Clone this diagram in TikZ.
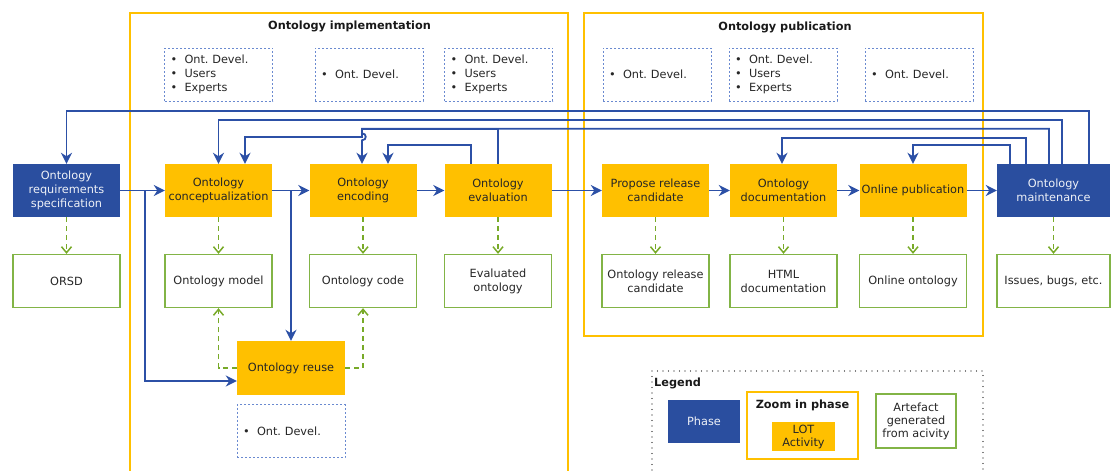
\documentclass[tikz,border=0pt]{standalone}
\usepackage{fontspec}
\setmainfont{DejaVu Sans}
\usetikzlibrary{arrows.meta,calc}
\definecolor{phaseblue}{HTML}{2A4E9F}
\definecolor{lineblue}{HTML}{2C50A6}
\definecolor{lotyellow}{HTML}{FFC000}
\definecolor{artgreen}{HTML}{82B446}
\definecolor{gendash}{HTML}{78AA28}
\definecolor{actorblue}{HTML}{6A8AD0}
\newcommand{\personitem}[1]{\makebox[14pt][l]{\textbullet}#1}
\frenchspacing
\begin{document}
\begin{tikzpicture}[line join=miter,x=1pt,y=-1pt,
	box/.style={minimum width=107pt,minimum height=53pt,inner sep=2pt,align=center,font=\fontsize{11.3}{14}\selectfont},
	phase/.style={box,fill=phaseblue,text=white!92!phaseblue},
	activity/.style={box,fill=lotyellow,text=black!85},
	artefact/.style={box,draw=artgreen,line width=1.3pt,fill=white,text=black!85},
	actors/.style={box,minimum width=108pt,draw=actorblue,dash pattern=on 2pt off 2pt,line width=0.9pt,align=left,text width=96pt,text=black!85},
	flow/.style={draw=lineblue,line width=1.8pt,-{Stealth[length=11pt,width=11pt,inset=3.5pt]}},
	gen/.style={draw=gendash,line width=1.5pt,dash pattern=on 5pt off 4pt,-{Straight Barb[length=6pt,width=10pt]}},
	frame/.style={draw=lotyellow,line width=1.5pt},
	title/.style={font=\bfseries\fontsize{11.3}{14}\selectfont,text=black!90}]
	\useasboundingbox (0,0) rectangle (1112,471);
	\clip (0,0) rectangle (1112,471);
	% phase frames
	\draw[frame] (130,480) |- (568,13) -- (568,480);
	\draw[frame] (584,13) rectangle (983,336);
	\node[title] (impltitle) at (349.5,26) {Ontology implementation};
	\node[title] (pubtitle) at (785,27) {Ontology publication};
	% actors
	\node[actors] (act1) at (218.5,74.5) {\personitem{Ont. Devel.}\\\personitem{Users}\\\personitem{Experts}};
	\node[actors] (act2) at (369,74.5) {\personitem{Ont. Devel.}};
	\node[actors] (act3) at (498.5,74.5) {\personitem{Ont. Devel.}\\\personitem{Users}\\\personitem{Experts}};
	\node[actors] (act4) at (657,74.5) {\personitem{Ont. Devel.}};
	\node[actors] (act5) at (783,74.5) {\personitem{Ont. Devel.}\\\personitem{Users}\\\personitem{Experts}};
	\node[actors] (act6) at (919,74.5) {\personitem{Ont. Devel.}};
	% phases and activities
	\node[phase] (ors) at (66.5,190.5) {Ontology\\requirements\\specification};
	\node[activity] (concept) at (218.5,190.5) {Ontology\\conceptualization};
	\node[activity] (enc) at (363,190.5) {Ontology\\encoding};
	\node[activity] (eval) at (498,190.5) {Ontology\\evaluation};
	\node[activity] (propose) at (655.5,190.5) {Propose release\\candidate};
	\node[activity] (doc) at (783.5,190.5) {Ontology\\documentation};
	\node[activity] (pub) at (913,190.5) {Online publication};
	\node[phase,minimum width=113pt] (maint) at (1053.5,190.5) {Ontology\\maintenance};
	\node[activity,minimum width=108pt,minimum height=54pt] (reuse) at (291,368) {Ontology reuse};
	\node[actors] (act7) at (291,431) {\personitem{Ont. Devel.}};
	% artefacts
	\node[artefact] (orsd) at (66.5,281) {ORSD};
	\node[artefact] (model) at (218.5,281) {Ontology model};
	\node[artefact] (code) at (363,281) {Ontology code};
	\node[artefact] (evald) at (498,281) {Evaluated\\ontology};
	\node[artefact] (release) at (655.5,281) {Ontology release\\candidate};
	\node[artefact] (html) at (783.5,281) {HTML\\documentation};
	\node[artefact] (online) at (913,281) {Online ontology};
	\node[artefact,minimum width=113pt] (issues) at (1053.5,281) {Issues, bugs, etc.};
	% main flow
	\foreach \a/\b in {ors/concept,concept/enc,enc/eval,eval/propose,propose/doc,doc/pub,pub/maint}
		\draw[flow] (\a) -- (\b);
	\coordinate (split1) at (145,190.5);
	\draw[flow] (split1) |- ($(reuse.west)+(0,13)$);
	\draw[flow] (reuse.north |- concept.east) -- (reuse.north);
	% feedback
	\draw[flow] ([xshift=35.5]maint.north) -- ++(0,-53) -| (ors.north);
	\draw[flow] ([xshift=8.5]maint.north) -- ++(0,-44) -| (concept.north);
	\draw[flow] (eval.north) -- ++(0,-35) -- ($(enc.north)+(-1,-35)$) -- ++(0,8) -| ([xshift=26.5]concept.north);
	\draw[flow] ([xshift=-4.5]maint.north) -- ++(0,-35) -- ($(enc.north)+(-1,-35)$) -- ++(0,4.5)
		.. controls +(5,0) and +(5,0) .. ++(0,7) -- ([xshift=-1]enc.north);
	\draw[flow] ([xshift=-27]eval.north) -- ++(0,-19) -| ([xshift=25]enc.north);
	\draw[flow] ([xshift=-27.5]maint.north) -- ++(0,-26) -| ([xshift=-1.5]doc.north);
	\draw[flow] ([xshift=-43.5]maint.north) -- ++(0,-19) -| (pub.north);
	% generated artefacts
	\foreach \a/\b in {ors/orsd,concept/model,enc/code,eval/evald,propose/release,doc/html,pub/online,maint/issues}
		\draw[gen] (\a) -- (\b);
	\draw[gen] (reuse.west) -| (model.south);
	\draw[gen] (reuse.east) -| (code.south);
	% legend
	\draw[black,line width=1.3pt,dash pattern=on 0pt off 5.5pt,line cap=round] (652,371) rectangle (983,480);
	\node[title,anchor=west,inner sep=1pt] (legtitle) at (653,383) {Legend};
	\node[phase,minimum width=72pt,minimum height=43pt] (legphase) at (704,421.5) {Phase};
	\node[draw=lotyellow,line width=1.5pt,minimum width=111pt,minimum height=67pt] (legzoom) at (802.5,425.5) {};
	\node[title] (legzoomtitle) at (802.5,405) {Zoom in phase};
	\node[activity,minimum width=63pt,minimum height=29pt,font=\fontsize{11.3}{13}\selectfont] (legactivity) at (803.5,436.5) {LOT\\Activity};
	\node[artefact,minimum width=80pt,minimum height=54pt,font=\fontsize{11.3}{13}\selectfont] (legartefact) at (916,421) {Artefact\\generated\\from acivity};
\end{tikzpicture}
\end{document}
